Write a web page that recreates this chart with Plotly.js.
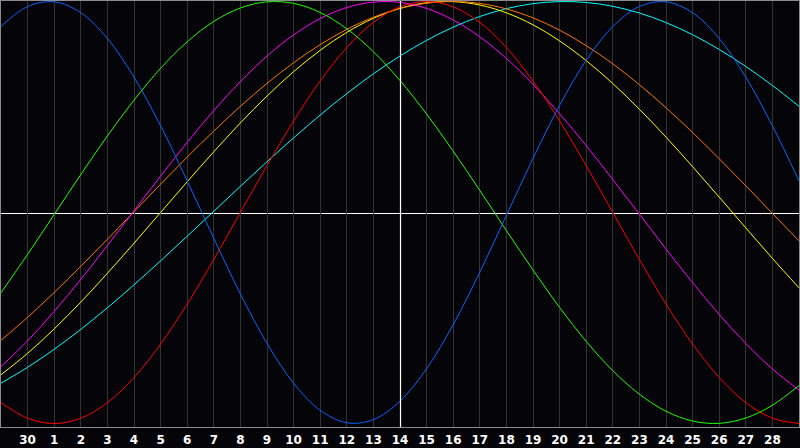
<!DOCTYPE html>
<html><head><meta charset="utf-8">
<script src="https://cdn.plot.ly/plotly-3.0.1.min.js"></script>
<style>html,body{margin:0;padding:0;background:#050408;}#c{width:800px;height:448px;}</style>
</head><body><div id="c"></div>
<script>
// day positions (-1 .. 29); tick positions 0..28
const days = [-1,0,1,2,3,4,5,6,7,8,9,10,11,12,13,14,15,16,17,18,19,20,21,22,23,24,25,26,27,28,29];
const tickPos = [0,1,2,3,4,5,6,7,8,9,10,11,12,13,14,15,16,17,18,19,20,21,22,23,24,25,26,27,28];
const tickLabels = ["30","1","2","3","4","5","6","7","8","9","10","11","12","13","14","15","16","17","18","19","20","21","22","23","24","25","26","27","28"];
const todayPos = 14;

const blue = [0.8815,0.9762,0.9985,0.9468,0.8248,0.6414,0.4109,0.1497,-0.1226,-0.3859,-0.6205,-0.8090,-0.9376,-0.9966,-0.9818,-0.8941,-0.7402,-0.5312,-0.2829,-0.0136,0.2566,0.5077,0.7216,0.8815,0.9762,0.9985,0.9468,0.8248,0.6414,0.4109,0.1497];
const green = [-0.3804,-0.1985,-0.0095,0.1799,0.3628,0.5326,0.6833,0.8090,0.9056,0.9695,0.9984,0.9911,0.9481,0.8708,0.7618,0.6255,0.4667,0.2908,0.1045,-0.0856,-0.2726,-0.4498,-0.6107,-0.7497,-0.8612,-0.9418,-0.9884,-0.9993,-0.9740,-0.9135,-0.8200];
const red = [-0.9010,-0.9749,-1,-0.9749,-0.9010,-0.7818,-0.6235,-0.4339,-0.2225,0,0.2225,0.4339,0.6235,0.7818,0.9010,0.9749,1,0.9749,0.9010,0.7818,0.6235,0.4339,0.2225,0,-0.2225,-0.4339,-0.6235,-0.7818,-0.9010,-0.9749,-1];
const magenta = [-0.7301,-0.6081,-0.4686,-0.3169,-0.1564,0.0082,0.1728,0.3325,0.4832,0.6206,0.7414,0.8417,0.9191,0.9714,0.9972,0.9959,0.9674,0.9124,0.8326,0.7302,0.6075,0.4685,0.3168,0.1564,-0.0082,-0.1728,-0.3325,-0.4831,-0.6207,-0.7414,-0.8417];
const orange = [-0.6056,-0.4967,-0.3791,-0.2551,-0.1267,0.0038,0.1343,0.2625,0.3862,0.5033,0.6118,0.7099,0.7957,0.8680,0.9254,0.9669,0.9919,1.0000,0.9909,0.9649,0.9223,0.8640,0.7909,0.7044,0.6059,0.4965,0.3790,0.2550,0.1266,-0.0040,-0.1345];
const yellow = [-0.7687,-0.6675,-0.5518,-0.4246,-0.2880,-0.1456,0.0,0.1456,0.2880,0.4246,0.5518,0.6675,0.7687,0.8536,0.9204,0.9675,0.9940,0.9993,0.9834,0.9464,0.8894,0.8133,0.7199,0.6113,0.4894,0.3572,0.2174,0.0730,-0.0730,-0.2174,-0.3572];
const cyan = [-0.8090,-0.7336,-0.6484,-0.5538,-0.4514,-0.3427,-0.2292,-0.1123,0.0059,0.1241,0.2406,0.3537,0.4619,0.5636,0.6574,0.7417,0.8159,0.8786,0.9289,0.9662,0.9899,0.9997,0.9955,0.9773,0.9454,0.9002,0.8425,0.7727,0.6921,0.6019,0.5034];

const series = [
  {y: cyan, c: '#00ffff'},
  {y: yellow, c: '#ffff00'},
  {y: orange, c: '#ff7700'},
  {y: magenta, c: '#ff00ff'},
  {y: red, c: '#ff0000'},
  {y: green, c: '#22ff00'},
  {y: blue, c: '#0a64ff'}
];
const traces = series.map(s => ({
  x: days, y: s.y, type: 'scatter', mode: 'lines',
  line: {color: s.c, width: 1, shape: 'spline', smoothing: 1},
  hoverinfo: 'skip', showlegend: false
}));

const layout = {
  width: 800, height: 448,
  margin: {l: 1, r: 1, t: 1, b: 21, pad: 0},
  paper_bgcolor: '#050408', plot_bgcolor: '#050408',
  showlegend: false,
  xaxis: {
    range: [-1, 29], tickvals: tickPos, ticktext: tickLabels,
    showgrid: true, gridcolor: '#333333', gridwidth: 1,
    zeroline: false, ticks: '', showline: true, mirror: true,
    linecolor: '#8c8c8c', linewidth: 1, ticklabelstandoff: 2,
    tickfont: {family: 'DejaVu Sans', size: 12, color: '#ffffff', weight: 'bold'},
    fixedrange: true
  },
  yaxis: {
    range: [-1.0166, 1.0024], showgrid: false, showticklabels: false,
    zeroline: false, ticks: '', showline: true, mirror: true, linecolor: '#8c8c8c', linewidth: 1,
    fixedrange: true
  },
  shapes: [
    {type: 'line', xref: 'x', yref: 'paper', x0: todayPos + 0.019, x1: todayPos + 0.019, y0: 0, y1: 1,
     line: {color: '#ffffff', width: 1.2}, layer: 'above'},
    {type: 'line', xref: 'paper', yref: 'y', x0: 0, x1: 1, y0: -0.0047, y1: -0.0047,
     line: {color: '#ffffff', width: 1}, layer: 'between'}
  ]
};
Plotly.newPlot('c', traces, layout, {staticPlot: true, displayModeBar: false});
</script></body></html>
